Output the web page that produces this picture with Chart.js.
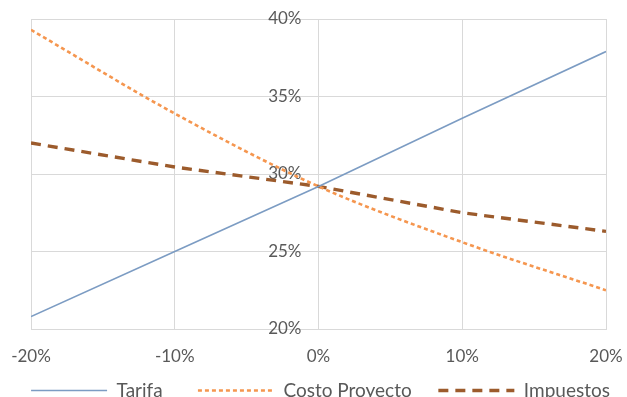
<!DOCTYPE html>
<html>
<head>
<meta charset="utf-8">
<script src="https://cdn.jsdelivr.net/npm/chart.js@4.4.0/dist/chart.umd.min.js"></script>
<style>
  html, body { margin: 0; padding: 0; background: #fff; }
  #wrap { width: 627px; height: 397px; }
</style>
</head>
<body>
<div id="wrap"><canvas id="chart1"></canvas></div>
<script>
// variación (%) sobre el eje x
var variacion = [-20, -10, 0, 10, 20];
var tarifa = [20.8, 25.0, 29.2, 33.6, 37.9];
var costoProyecto = [39.3, 33.9, 29.2, 25.6, 22.5];
var impuestos = [32.0, 30.45, 29.2, 27.5, 26.3];

var yTicks = [20, 25, 30, 35, 40];
var xTicks = [-20, -10, 0, 10, 20];

function pts(vals) {
    return variacion.map(function(x, i) { return {x: x, y: vals[i]}; });
}

var gris = '#595959';
var grid = '#d9d9d9';
var espacios = ['\u2003\u2004\u2005', '\u2003\u2009', ''];

new Chart(document.getElementById('chart1'), {
    type: 'line',
    data: {
        datasets: [{
            label: 'Tarifa',
            data: pts(tarifa),
            borderColor: '#7c9cc3',
            borderWidth: 1.6,
            pointRadius: 0,
            pointStyle: 'line',
            tension: 0
        }, {
            label: 'Costo Proyecto',
            data: pts(costoProyecto),
            borderColor: '#f5964f',
            borderWidth: 2.6,
            borderDash: [4, 3],
            pointRadius: 0,
            pointStyle: 'line',
            cubicInterpolationMode: 'monotone'
        }, {
            label: 'Impuestos',
            data: pts(impuestos),
            borderColor: '#9c5b2c',
            borderWidth: 3.4,
            borderDash: [10, 7],
            pointRadius: 0,
            pointStyle: 'line',
            tension: 0
        }]
    },
    options: {
        responsive: true,
        maintainAspectRatio: false,
        animation: false,
        layout: { padding: { left: 14, right: 0, top: 19, bottom: -13 } },
        plugins: {
            legend: {
                position: 'bottom',
                labels: {
                    usePointStyle: true,
                    pointStyleWidth: 76,
                    boxHeight: 10,
                    padding: 10,
                    color: gris,
                    font: { family: 'Lato', size: 19 },
                    generateLabels: function(chart) {
                        var items = Chart.defaults.plugins.legend.labels.generateLabels(chart);
                        items.forEach(function(it, i) {
                            var ds = chart.data.datasets[it.datasetIndex];
                            it.lineDash = ds.borderDash || [];
                            it.text = it.text + espacios[i];
                        });
                        return items;
                    }
                }
            },
            tooltip: { enabled: false }
        },
        scales: {
            x: {
                type: 'linear',
                min: -20,
                max: 20,
                afterBuildTicks: function(axis) {
                    axis.ticks = xTicks.map(function(v) { return {value: v}; });
                },
                // márgenes del área de trazado
                afterFit: function(axis) {
                    axis.paddingLeft = 31;
                    axis.paddingRight = 21;
                    axis.height = 42;
                },
                grid: { color: grid, drawTicks: false },
                border: { color: grid },
                ticks: {
                    padding: 17,
                    color: gris,
                    font: { family: 'Lato', size: 17 },
                    callback: function(v) { return v + '%'; }
                }
            },
            y: {
                position: { x: 0 },
                min: 20,
                max: 40,
                afterBuildTicks: function(axis) {
                    axis.ticks = yTicks.map(function(v) { return {value: v}; });
                },
                // el eje va en x = 0, no debe ocupar espacio
                afterFit: function(axis) {
                    axis.width = 0;
                    axis.paddingTop = 0;
                    axis.paddingBottom = 0;
                },
                grid: { color: grid, drawTicks: false },
                border: { color: grid },
                ticks: {
                    color: gris,
                    font: { family: 'Lato', size: 17 },
                    callback: function(v) { return v + '%\u2003\u2005'; }
                }
            }
        }
    }
});
</script>
</body>
</html>
